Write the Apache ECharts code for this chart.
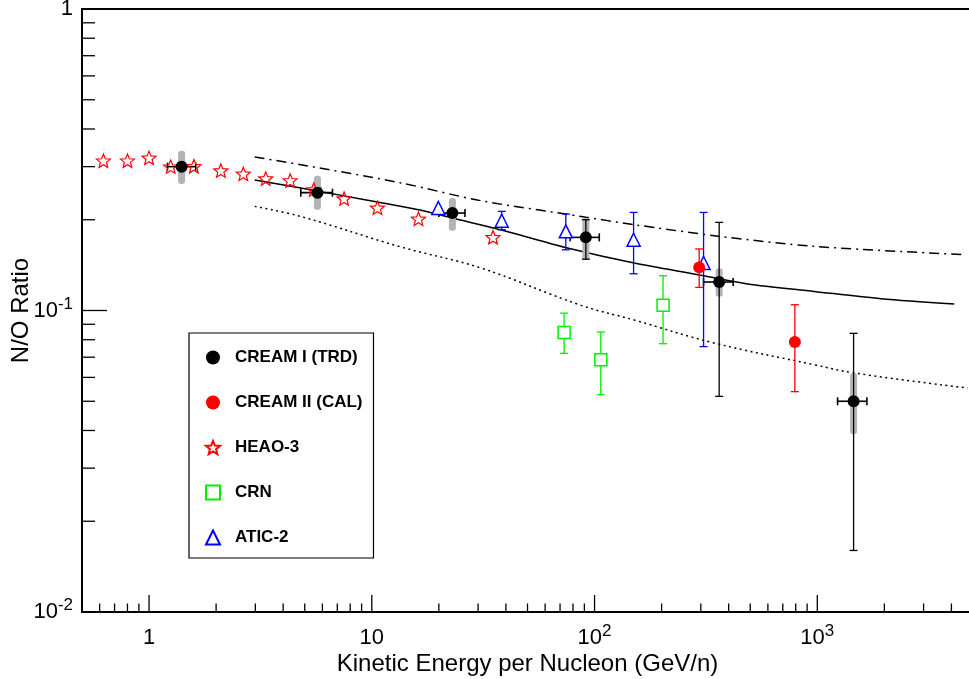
<!DOCTYPE html>
<html><head><meta charset="utf-8">
<script src="https://cdn.jsdelivr.net/npm/echarts@6/dist/echarts.min.js"></script>
<style>html,body{margin:0;padding:0;background:#fff}#c{width:969px;height:679px}</style>
</head><body><div id="c"></div>
<script>
// ---------------- data ----------------
// CREAM I (TRD)
const trdEnergy = [1.40, 5.70, 23.0, 91.4, 362.6, 1455];
const trdRatio  = [0.300, 0.246, 0.2105, 0.1748, 0.1243, 0.0500];
const trdStatLo = [null, null, null, 0.148, 0.0519, 0.0160];
const trdStatHi = [null, null, null, 0.200, 0.196, 0.0840];
const trdSysLo  = [0.263, 0.216, 0.184, 0.147, 0.111, 0.0389];
const trdSysHi  = [0.339, 0.280, 0.236, 0.203, 0.138, 0.0621];
const trdELo    = [1.21, 4.80, 20.0, 77.7, 308.5, 1233];
const trdEHi    = [1.62, 6.66, 26.2, 105, 419, 1670];
// CREAM II (CAL)
const calEnergy = [294.9, 793];
const calRatio  = [0.139, 0.0786];
const calLo     = [0.1193, 0.0538];
const calHi     = [0.160, 0.1045];
// HEAO-3
const heaoEnergy = [0.624, 0.80, 1.0, 1.25, 1.59, 2.10, 2.65, 3.34, 4.30, 5.49, 7.51, 10.6, 16.2, 35.0];
const heaoRatio  = [0.314, 0.314, 0.321, 0.300, 0.301, 0.291, 0.284, 0.274, 0.270, 0.252, 0.235, 0.219, 0.2015, 0.175];
// CRN
const crnEnergy = [73.0, 106.7, 203];
const crnRatio  = [0.0846, 0.0687, 0.1040];
const crnLo     = [0.0721, 0.0526, 0.0776];
const crnHi     = [0.098, 0.0849, 0.1304];
// ATIC-2
const aticEnergy = [19.9, 38.3, 74.3, 149.7, 308.6];
const aticRatio  = [0.2188, 0.1985, 0.183, 0.1717, 0.1437];
const aticLo     = [null, 0.1853, 0.159, 0.1324, 0.0759];
const aticHi     = [null, 0.2132, 0.209, 0.2115, 0.2115];
// model curves
const solidE = [2.98, 4.80, 7.51, 10.6, 16.2, 23.0, 37.9, 75.6, 150.6, 300, 486, 968, 1931, 4119];
const solidR = [0.271, 0.2548, 0.240, 0.229, 0.216, 0.2026, 0.1853, 0.1612, 0.1437, 0.1310, 0.1225, 0.1157, 0.1094, 0.1051];
const dashE  = [2.98, 4.80, 13.5, 30.9, 87.1, 150.6, 368, 968, 4570];
const dashR  = [0.323, 0.3045, 0.265, 0.2313, 0.2051, 0.1926, 0.176, 0.1632, 0.1532];
const dotE   = [2.98, 4.80, 13.5, 30.9, 87.1, 150.6, 344, 968, 1455, 4731];
const dotR   = [0.2215, 0.205, 0.1625, 0.1383, 0.1040, 0.0930, 0.078, 0.0661, 0.0621, 0.0553];
// axes
const X_MIN = 0.5, X_MAX = 5000, Y_MIN = 0.01, Y_MAX = 1;
const xMajorTicks = [1, 10, 100, 1000];
const xMinorTicks = [0.6, 0.7, 0.8, 0.9, 2, 3, 4, 5, 6, 7, 8, 9, 20, 30, 40, 50, 60, 70, 80, 90,
                     200, 300, 400, 500, 600, 700, 800, 900, 2000, 3000, 4000];
const yMajorTicks = [0.01, 0.1, 1];
const yMinorTicks = [0.02, 0.03, 0.04, 0.05, 0.06, 0.07, 0.08, 0.09, 0.2, 0.3, 0.4, 0.5, 0.6, 0.7, 0.8, 0.9];
const legendNames = ['CREAM I (TRD)', 'CREAM II (CAL)', 'HEAO-3', 'CRN', 'ATIC-2'];
const xTitle = 'Kinetic Energy per Nucleon (GeV/n)';
const yTitle = 'N/O Ratio';

// ---------------- chart ----------------
const FONT = '"Liberation Sans", Arial, Helvetica, sans-serif';
const STAR = 'path://M50 0 L62.93 32.2 L97.55 34.55 L70.92 56.8 L79.39 90.45 L50 72 L20.61 90.45 L29.08 56.8 L2.45 34.55 L37.07 32.2 Z';
const zip = (a, b) => a.map((v, i) => [v, b[i]]);

function powLabel(v) {
  const e = Math.log10(v), r = Math.round(e);
  if (Math.abs(e - r) > 1e-6) return '';
  if (r === 0) return '{b|1}';
  if (r === 1) return '{b|10}';
  return '{b|10}{s|' + r + '}';
}
const labelRich = {
  b: { fontSize: 22, lineHeight: 30, fontFamily: FONT, color: '#000', verticalAlign: 'middle' },
  s: { fontSize: 17, lineHeight: 17, fontFamily: FONT, color: '#000', verticalAlign: 'top' }
};

function tickSeries(rows, horizontal, len) {
  return {
    type: 'custom', name: '_ticks', silent: true, z: 10, clip: false,
    encode: { x: 0, y: 1 }, data: rows,
    renderItem(params, api) {
      const p = api.coord([api.value(0), api.value(1)]);
      const shape = horizontal
        ? { x1: p[0], y1: p[1], x2: p[0], y2: p[1] - len }
        : { x1: p[0], y1: p[1], x2: p[0] + len, y2: p[1] };
      return { type: 'line', shape, style: { stroke: '#000', lineWidth: 1.3 } };
    }
  };
}

function vBars(rows, color, z) {
  return {
    type: 'custom', name: '_vbars', silent: true, z,
    encode: { x: 0, y: [1, 2] }, data: rows,
    renderItem(params, api) {
      const x = api.value(0);
      const a = api.coord([x, api.value(1)]), b = api.coord([x, api.value(2)]);
      const st = { stroke: color, lineWidth: 1.3 }, cw = 4;
      return { type: 'group', children: [
        { type: 'line', shape: { x1: a[0], y1: a[1], x2: b[0], y2: b[1] }, style: st },
        { type: 'line', shape: { x1: a[0] - cw, y1: a[1], x2: a[0] + cw, y2: a[1] }, style: st },
        { type: 'line', shape: { x1: b[0] - cw, y1: b[1], x2: b[0] + cw, y2: b[1] }, style: st }
      ]};
    }
  };
}
function hBars(rows, color, z) {
  return {
    type: 'custom', name: '_hbars', silent: true, z,
    encode: { x: [0, 2], y: 1 }, data: rows,
    renderItem(params, api) {
      const y = api.value(1);
      const a = api.coord([api.value(0), y]), b = api.coord([api.value(2), y]);
      const st = { stroke: color, lineWidth: 1.6 }, cw = 4;
      return { type: 'group', children: [
        { type: 'line', shape: { x1: a[0], y1: a[1], x2: b[0], y2: b[1] }, style: st },
        { type: 'line', shape: { x1: a[0], y1: a[1] - cw, x2: a[0], y2: a[1] + cw }, style: st },
        { type: 'line', shape: { x1: b[0], y1: b[1] - cw, x2: b[0], y2: b[1] + cw }, style: st }
      ]};
    }
  };
}
function bands(rows, z) {
  return {
    type: 'custom', name: '_sys', silent: true, z,
    encode: { x: 0, y: [1, 2] }, data: rows,
    renderItem(params, api) {
      const x = api.value(0);
      const a = api.coord([x, api.value(1)]), b = api.coord([x, api.value(2)]);
      return { type: 'rect', shape: { x: a[0] - 3.5, y: b[1], width: 7, height: a[1] - b[1], r: 3 },
               style: { fill: '#b4b4b4' } };
    }
  };
}
const rowsV = (E, lo, hi) => E.map((e, i) => [e, lo[i], hi[i]]).filter(r => r[1] != null && r[2] != null);
const solidStyle = (c) => ({ color: c, opacity: 1 });

const series = [
  { type: 'line', name: '_solid', data: zip(solidE, solidR), showSymbol: false, symbol: 'none', smooth: 0.3, z: 2,
    lineStyle: { color: '#000', width: 1.5, type: 'solid', opacity: 1 }, silent: true },
  { type: 'line', name: '_dash', data: zip(dashE, dashR), showSymbol: false, symbol: 'none', smooth: 0.3, z: 2,
    lineStyle: { color: '#000', width: 1.5, type: [10, 5, 2, 5], opacity: 1 }, silent: true },
  { type: 'line', name: '_dot', data: zip(dotE, dotR), showSymbol: false, symbol: 'none', smooth: 0.4, z: 2,
    lineStyle: { color: '#000', width: 1.5, type: [2, 3.5], opacity: 1 }, silent: true },
  bands(rowsV(trdEnergy, trdSysLo, trdSysHi), 3),
  vBars(rowsV(trdEnergy, trdStatLo, trdStatHi), '#000', 4),
  hBars(trdEnergy.map((e, i) => [trdELo[i], trdRatio[i], trdEHi[i]]), '#000', 4),
  vBars(rowsV(calEnergy, calLo, calHi), '#ff0000', 4),
  vBars(rowsV(crnEnergy, crnLo, crnHi), '#00ee00', 4),
  vBars(rowsV(aticEnergy, aticLo, aticHi), '#0000ff', 4),
  { type: 'scatter', name: legendNames[2], data: zip(heaoEnergy, heaoRatio), symbol: STAR, symbolSize: 14, symbolKeepAspect: true, z: 5,
    itemStyle: { color: 'rgba(0,0,0,0)', borderColor: '#ff0000', borderWidth: 1.2, opacity: 1 } },
  { type: 'scatter', name: legendNames[3], data: zip(crnEnergy, crnRatio), symbol: 'rect', symbolSize: 12, z: 5,
    itemStyle: { color: '#fff', borderColor: '#00ee00', borderWidth: 1.5, opacity: 1 } },
  { type: 'scatter', name: legendNames[4], data: zip(aticEnergy, aticRatio), symbol: 'triangle', symbolSize: 13, z: 5,
    itemStyle: { color: '#fff', borderColor: '#0000ff', borderWidth: 1.5, opacity: 1 } },
  { type: 'scatter', name: legendNames[1], data: zip(calEnergy, calRatio), symbol: 'circle', symbolSize: 12, z: 6,
    itemStyle: solidStyle('#ff0000') },
  { type: 'scatter', name: legendNames[0], data: zip(trdEnergy, trdRatio), symbol: 'circle', symbolSize: 12, z: 6,
    itemStyle: solidStyle('#000') },
  tickSeries(xMajorTicks.map(v => [v, Y_MIN]), true, 17),
  tickSeries(xMinorTicks.map(v => [v, Y_MIN]), true, 8.5),
  tickSeries(yMajorTicks.map(v => [X_MIN, v]), false, 25),
  tickSeries(yMinorTicks.map(v => [X_MIN, v]), false, 13)
];

const chart = echarts.init(document.getElementById('c'), null, { renderer: 'canvas' });
chart.setOption({
  animation: false,
  backgroundColor: '#fff',
  textStyle: { fontFamily: FONT, color: '#000' },
  grid: { left: 82, top: 9, width: 891, height: 603, show: true, borderColor: '#000', borderWidth: 2,
          containLabel: false, outerBoundsMode: 'none' },
  xAxis: {
    type: 'log', logBase: 10, min: X_MIN, max: X_MAX,
    name: xTitle, nameLocation: 'middle', nameGap: 40, nameMoveOverlap: false,
    nameTextStyle: { fontSize: 24, fontFamily: FONT, color: '#000' },
    axisLine: { lineStyle: { color: '#000', width: 2 } },
    axisTick: { show: false }, minorTick: { show: false }, splitLine: { show: false },
    axisLabel: { margin: 11, formatter: v => powLabel(v), rich: labelRich, hideOverlap: false }
  },
  yAxis: {
    type: 'log', logBase: 10, min: Y_MIN, max: Y_MAX,
    name: yTitle, nameLocation: 'middle', nameGap: 49, nameRotate: 90, nameMoveOverlap: false,
    nameTextStyle: { fontSize: 24, fontFamily: FONT, color: '#000' },
    axisLine: { lineStyle: { color: '#000', width: 2 } },
    axisTick: { show: false }, minorTick: { show: false }, splitLine: { show: false },
    axisLabel: { margin: 9, formatter: v => powLabel(v), rich: labelRich, hideOverlap: false }
  },
  legend: {
    data: legendNames, orient: 'vertical', left: 189, top: 333,
    padding: [16, 11, 12, 16], itemGap: 28, itemWidth: 14, itemHeight: 14,
    borderColor: '#000', borderWidth: 1.2, backgroundColor: '#fff', selectedMode: false,
    itemStyle: { opacity: 1 },
    textStyle: { fontSize: 17, fontWeight: 'bold', fontFamily: FONT, color: '#000', lineHeight: 14, padding: [0, 0, 0, 10] }
  },
  series
});
</script>
</body></html>
